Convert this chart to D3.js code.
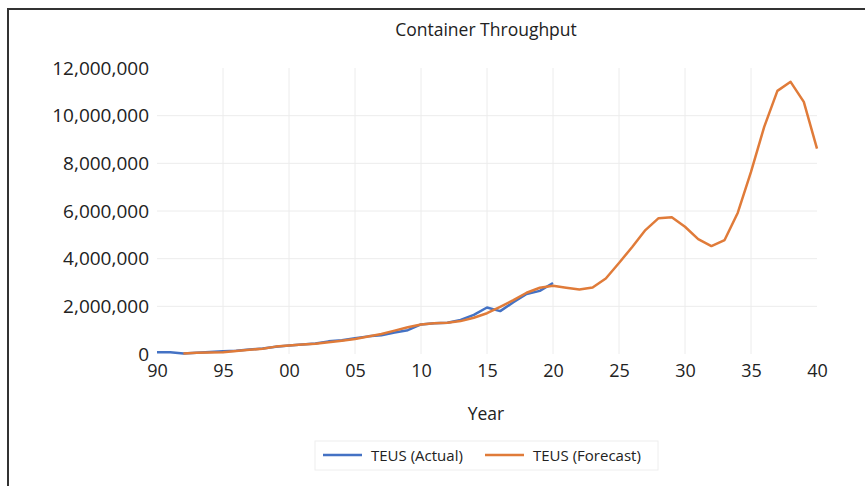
<!DOCTYPE html>
<html>
<head>
<meta charset="utf-8">
<script src="https://cdn.jsdelivr.net/npm/d3@7"></script>
<style>
  body { margin: 0; background: #fff; }
  svg { display: block; }
</style>
</head>
<body>
<div id="chart"></div>
<script>
// years and values
var actualYears = d3.range(1990, 2021);
var actualValues = [70000, 70000, 20000, 50000, 80000, 120000, 140000, 190000, 230000, 300000,
  360000, 400000, 440000, 530000, 580000, 660000, 740000, 790000, 900000, 1000000,
  1240000, 1290000, 1310000, 1430000, 1640000, 1950000, 1800000, 2170000, 2520000, 2650000,
  2980000];

var forecastYears = d3.range(1992, 2041);
var forecastValues = [20000, 50000, 60000, 70000, 130000, 180000, 220000, 310000,
  360000, 400000, 430000, 490000, 560000, 630000, 730000, 840000, 980000, 1120000,
  1240000, 1290000, 1310000, 1380000, 1520000, 1710000, 1980000, 2260000, 2570000, 2780000,
  2860000, 2780000, 2710000, 2790000, 3170000, 3820000, 4490000, 5200000, 5700000, 5740000,
  5340000, 4820000, 4530000, 4780000, 5930000, 7640000, 9530000, 11040000, 11420000, 10580000,
  8620000];

var xTicks = d3.range(1990, 2041, 5);
var yTicks = [0, 2000000, 4000000, 6000000, 8000000, 10000000, 12000000];
var seriesNames = ["TEUS (Actual)", "TEUS (Forecast)"];
var seriesColors = ["#4472C4", "#E07B39"];

var W = 865, H = 486;
var margin = {top: 68, right: 48, bottom: 132, left: 157},
    width = W - margin.left - margin.right,
    height = H - margin.top - margin.bottom;

var svg = d3.select("#chart").append("svg")
    .attr("width", W)
    .attr("height", H);

// outer frame (only top and left edges are inside the window)
svg.append("rect")
    .attr("x", 8)
    .attr("y", 9)
    .attr("width", W + 20)
    .attr("height", H + 20)
    .attr("fill", "none")
    .attr("stroke", "#333")
    .attr("stroke-width", 2);

var g = svg.append("g")
    .attr("transform", "translate(" + margin.left + "," + margin.top + ")");

// set the ranges
var x = d3.scaleLinear().domain([1990, 2040]).range([0, width]);
var y = d3.scaleLinear().domain([0, 12000000]).range([height, 0]);

// gridlines
g.append("g")
    .selectAll("line")
    .data(yTicks.slice(1, -1))
    .join("line")
    .attr("x1", 0)
    .attr("x2", width)
    .attr("y1", function(d) { return y(d); })
    .attr("y2", function(d) { return y(d); })
    .attr("stroke", "#ececec")
    .attr("stroke-width", 1);

g.append("g")
    .selectAll("line")
    .data(xTicks.slice(1, -1))
    .join("line")
    .attr("x1", function(d) { return x(d); })
    .attr("x2", function(d) { return x(d); })
    .attr("y1", 0)
    .attr("y2", height)
    .attr("stroke", "#ececec")
    .attr("stroke-width", 1);

// axes, no lines just labels
var fmt = d3.format(",");
var yAxis = g.append("g")
    .call(d3.axisLeft(y).tickValues(yTicks).tickSize(0).tickPadding(8).tickFormat(fmt));
yAxis.select(".domain").remove();
yAxis.selectAll(".tick text").style("font-size", "19px");

var xAxis = g.append("g")
    .attr("transform", "translate(0," + height + ")")
    .call(d3.axisBottom(x).tickValues(xTicks).tickSize(0).tickPadding(10)
      .tickFormat(function(d) { return d3.format("02")(d % 100); }));
xAxis.select(".domain").remove();
xAxis.selectAll(".tick text").style("font-size", "18px");

g.selectAll(".tick text")
    .style("font-family", "'Open Sans', sans-serif")
    .style("fill", "#222");

// the lines
var line = d3.line()
    .x(function(d) { return x(d[0]); })
    .y(function(d) { return y(d[1]); });

var actual = d3.zip(actualYears, actualValues);
var forecast = d3.zip(forecastYears, forecastValues);

g.append("path")
    .datum(actual)
    .attr("fill", "none")
    .attr("stroke", seriesColors[0])
    .attr("stroke-width", 2.5)
    .attr("stroke-linejoin", "round")
    .attr("d", line);

g.append("path")
    .datum(forecast)
    .attr("fill", "none")
    .attr("stroke", seriesColors[1])
    .attr("stroke-width", 2.5)
    .attr("stroke-linejoin", "round")
    .attr("d", line);

// title
svg.append("text")
    .attr("x", 486)
    .attr("y", 36)
    .attr("text-anchor", "middle")
    .style("font-family", "'Open Sans', sans-serif")
    .style("font-size", "17.5px")
    .style("fill", "#222")
    .text("Container Throughput");

// x axis title
svg.append("text")
    .attr("x", 486)
    .attr("y", 420)
    .attr("text-anchor", "middle")
    .style("font-family", "'Open Sans', sans-serif")
    .style("font-size", "17.5px")
    .style("fill", "#222")
    .text("Year");

// legend
var legend = svg.append("g");
legend.append("rect")
    .attr("x", 315)
    .attr("y", 441)
    .attr("width", 343)
    .attr("height", 29)
    .attr("fill", "#fff")
    .attr("stroke", "#eeeeee");

var legendX = [323, 485];
seriesNames.forEach(function(name, i) {
  legend.append("line")
      .attr("x1", legendX[i])
      .attr("x2", legendX[i] + 39)
      .attr("y1", 455)
      .attr("y2", 455)
      .attr("stroke", seriesColors[i])
      .attr("stroke-width", 2.5);
  legend.append("text")
      .attr("x", legendX[i] + 48)
      .attr("y", 460.5)
      .style("font-family", "'Open Sans', sans-serif")
      .style("font-size", "15px")
      .style("fill", "#222")
      .text(name);
});
</script>
</body>
</html>
